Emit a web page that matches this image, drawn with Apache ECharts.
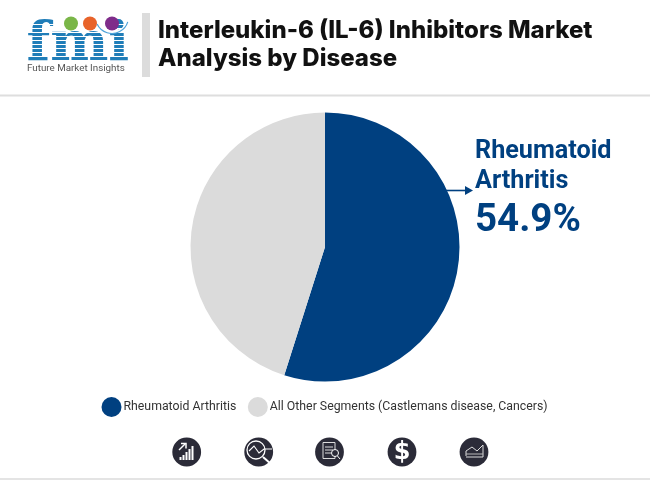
<!DOCTYPE html>
<html><head><meta charset="utf-8">
<style>html,body{margin:0;padding:0;background:#fff}#c{width:650px;height:480px}</style>
<script src="https://cdn.jsdelivr.net/npm/echarts@6/dist/echarts.min.js"></script></head>
<body><div id="c"></div>
<script>
const categories = ["Rheumatoid Arthritis", "All Other Segments (Castlemans disease, Cancers)"];
const values = [54.9, 45.1];
const colors = ["#004080", "#DBDBDB"];
const titleLines = ["Interleukin-6 (IL-6) Inhibitors Market", "Analysis by Disease"];
const calloutLines = ["Rheumatoid", "Arthritis"];
const calloutValue = "54.9%";
const logoLetters = "fmi";
const logoCaption = "Future Market Insights";
const FONT = "Roboto";
const NAVY = "#004080", DARK = "#2B2B38", LOGO = "#1F7DB8";

function txt(x, y, text, size, weight, fill, family) {
  return {type:'text', x, y, style:{text, fontSize:size, fontWeight:weight, fill, fontFamily:family||FONT, textVerticalAlign:'middle'}};
}
function rect(x,y,w,h,fill){return {type:'rect',shape:{x,y,width:w,height:h},style:{fill}};}
function circ(cx,cy,r,fill){return {type:'circle',shape:{cx,cy,r},style:{fill}};}
function line(x1,y1,x2,y2,stroke,w){return {type:'line',shape:{x1,y1,x2,y2},style:{stroke,lineWidth:w||1.3,fill:null}};}
function poly(points,stroke,w){return {type:'polyline',shape:{points},style:{stroke,lineWidth:w||1.2,fill:null}};}

const g = [
  rect(0,94.5,650,2,'#DEDEDE'),
  rect(0,478,650,2,'#E4E4E4'),
  rect(142,13,8,64,'#DCDCDC'),
  txt(158,30.5,titleLines[0],24,800,'#111','Inter'),
  txt(158,58.5,titleLines[1],24,800,'#111','Inter'),
  txt(475,151.5,calloutLines[0],25.2,700,NAVY),
  txt(475,182,calloutLines[1],25.2,700,NAVY),
  txt(475,221,calloutValue,38.5,700,NAVY),
  line(446,190.5,468,190.5,NAVY,1.6),
  {type:'polygon',shape:{points:[[465,186],[473,190.5],[465,195]]},style:{fill:NAVY}},
  {type:'text',x:26.5,y:73.5,style:{text:logoLetters,fontFamily:'DejaVu Serif',fontWeight:700,fontSize:55,fill:LOGO,textVerticalAlign:'bottom'}}
];
// white stripes across logo
[24,28,32,36,40,44,48,52,56].forEach(y=>g.push(rect(26,y,104,1,'#fff')));
g.push(
  circ(71,23.5,7,'#7AB648'), circ(90,23.5,7,'#E8632A'), circ(112,23.5,7,'#7F2C8A'),
  {type:'arc',shape:{cx:112,cy:17,r:16.5,startAngle:0.3,endAngle:2.7},style:{stroke:'#4FA3D9',lineWidth:1.2,fill:null}},
  txt(27,68.5,logoCaption,9.8,400,'#555')
);

// bottom icons
[186.7,258.7,329.5,402,474].forEach(cx=>g.push(circ(cx,452,14.4,DARK)));
[[179.5,3],[182.5,5],[185.5,8],[188.5,11],[191.5,14]].forEach(b=>g.push(rect(b[0],460-b[1],2,b[1],'#fff')));
g.push(line(179,450,185,444,'#fff',1.5), poly([[181,443.5],[186,443.5],[186,448.5]],'#fff',1.5));
g.push({type:'circle',shape:{cx:256,cy:450,r:9},style:{stroke:'#fff',lineWidth:1.3,fill:null}});
g.push(line(263,457,271,464,'#fff',2));
g.push(poly([[249,451],[254,446],[259,453],[264,449],[272,449]],'#fff',1.1));
g.push({type:'rect',shape:{x:323,y:442.5,width:12,height:16},style:{stroke:'#ddd',lineWidth:1,fill:null}});
g.push(line(325,447,333,447,'#ddd',1),line(325,450,333,450,'#ddd',1),line(325,453,331,453,'#ddd',1));
g.push({type:'circle',shape:{cx:335,cy:453,r:3.5},style:{stroke:'#fff',lineWidth:1,fill:DARK}});
g.push(line(337.5,456,340,459,'#fff',1));
g.push({type:'text',x:402,y:452.5,style:{text:'$',fontFamily:'DejaVu Sans',fontWeight:700,fontSize:24,fill:'#fff',textAlign:'center',textVerticalAlign:'middle'}});
g.push(poly([[466,456],[466,451],[472,447],[477,451],[483,445],[483,457],[466,457]],'#ddd',1));
g.push(line(466,454,483,454,'#bbb',1));

const chart = echarts.init(document.getElementById('c'),null,{renderer:'canvas'});
chart.setOption({
  animation:false,
  backgroundColor:'#fff',
  color:colors,
  legend:{
    data:categories, left:101.5, top:397, icon:'circle', itemWidth:20, itemHeight:20, itemGap:11.5,
    textStyle:{fontFamily:'Roboto',fontSize:12.3,color:'#333',padding:[0,0,0,-3]}, padding:0
  },
  series:[{
    type:'pie', center:[325,247], radius:[0,134.5], startAngle:90, clockwise:true,
    label:{show:false}, labelLine:{show:false}, emphasis:{disabled:true}, silent:true,
    data:categories.map((name,i)=>({name,value:values[i]}))
  }],
  graphic:{elements:g}
});
</script></body></html>
